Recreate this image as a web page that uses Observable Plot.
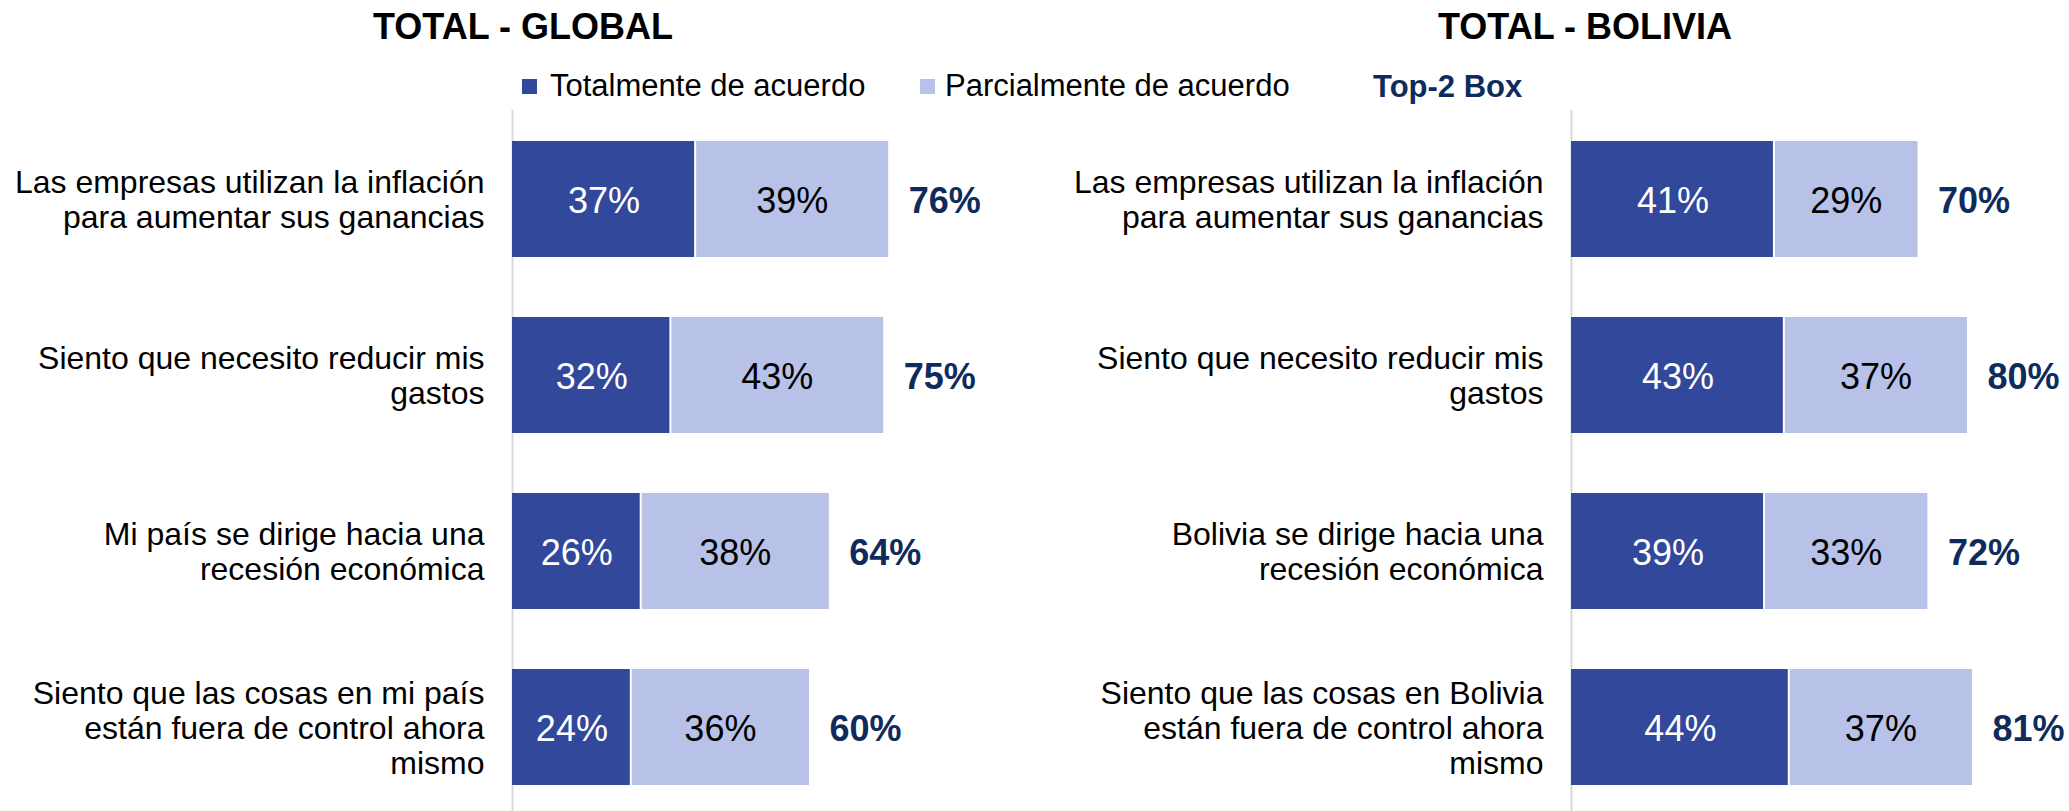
<!DOCTYPE html>
<html><head><meta charset="utf-8">
<script src="https://cdn.jsdelivr.net/npm/d3@7"></script>
<script src="https://cdn.jsdelivr.net/npm/@observablehq/plot@0.6"></script>
<style>
body{margin:0;overflow:hidden;background:#fff;font-family:"Liberation Sans",Arial,sans-serif;}
#wrap{position:relative;width:2069px;height:811px;overflow:hidden;}
.title{position:absolute;top:9px;font-size:36px;line-height:36px;font-weight:bold;color:#000;transform:translateX(-50%);white-space:nowrap;}
.leg{position:absolute;top:70px;font-size:31px;line-height:31px;color:#000;white-space:nowrap;}
.sw{position:absolute;width:15px;height:15px;top:79px;}
.panel{position:absolute;top:110px;}
.panel svg{overflow:visible;}
</style></head><body>
<div id="wrap">
  <div class="title" style="left:523px">TOTAL - GLOBAL</div>
  <div class="title" style="left:1585px">TOTAL - BOLIVIA</div>
  <div class="sw" style="left:522px;background:#32489b"></div>
  <div class="leg" style="left:550px">Totalmente de acuerdo</div>
  <div class="sw" style="left:920px;background:#b8c2e8"></div>
  <div class="leg" style="left:945px">Parcialmente de acuerdo</div>
  <div class="leg" style="left:1373px;top:71px;font-weight:bold;color:#0f2b5b">Top-2 Box</div>
  <div class="panel" id="left" style="left:0px"></div>
  <div class="panel" id="right" style="left:1034px"></div>
</div>
<script>
const categoriesGlobal = [
  "Las empresas utilizan la inflación\npara aumentar sus ganancias",
  "Siento que necesito reducir mis\ngastos",
  "Mi país se dirige hacia una\nrecesión económica",
  "Siento que las cosas en mi país\nestán fuera de control ahora\nmismo"
];
const totalGlobal = [37, 32, 26, 24];
const partialGlobal = [39, 43, 38, 36];
const top2Global = [76, 75, 64, 60];

const categoriesBolivia = [
  "Las empresas utilizan la inflación\npara aumentar sus ganancias",
  "Siento que necesito reducir mis\ngastos",
  "Bolivia se dirige hacia una\nrecesión económica",
  "Siento que las cosas en Bolivia\nestán fuera de control ahora\nmismo"
];
const totalBolivia = [41, 43, 39, 44];
const partialBolivia = [29, 37, 33, 37];
const top2Bolivia = [70, 80, 72, 81];

const colorDark = "#32489b";
const colorLight = "#b8c2e8";
const navy = "#0f2b5b";
const font = "'Liberation Sans', Arial, sans-serif";

function panel(cats, tot, par, top2, width, marginLeft) {
  const rows = cats.map((c, i) => ({cat: c, total: tot[i], partial: par[i], top2: top2[i]}));
  return Plot.plot({
    width, height: 706,
    marginLeft, marginRight: width - marginLeft - 495, marginTop: 0, marginBottom: 0,
    x: {domain: [0, 100], axis: null},
    y: {domain: cats, axis: null, paddingInner: 0.34, paddingOuter: 0.17},
    style: {fontFamily: font, background: "transparent", overflow: "visible"},
    marks: [
      Plot.ruleX([0], {stroke: "#d9d9d9", strokeWidth: 2}),
      Plot.barX(rows, {x1: 0, x2: "total", y: "cat", fill: colorDark, insetRight: 1}),
      Plot.barX(rows, {x1: "total", x2: "top2", y: "cat", fill: colorLight, insetLeft: 1}),
      Plot.text(rows, {x: d => d.total / 2, y: "cat", text: d => d.total + "%", fill: "white", fontSize: 36, dy: 2}),
      Plot.text(rows, {x: d => d.total + d.partial / 2, y: "cat", text: d => d.partial + "%", fill: "#000", fontSize: 36, dy: 2}),
      Plot.text(rows, {x: "top2", y: "cat", text: d => d.top2 + "%", dx: 20, dy: 2, textAnchor: "start", fill: navy, fontSize: 36, fontWeight: "bold"}),
      Plot.text(rows, {x: 0, y: "cat", text: "cat", dx: -28, textAnchor: "end", fontSize: 32, lineHeight: 1.1, fill: "#000"})
    ]
  });
}

document.getElementById("left").appendChild(panel(categoriesGlobal, totalGlobal, partialGlobal, top2Global, 1034, 512));
document.getElementById("right").appendChild(panel(categoriesBolivia, totalBolivia, partialBolivia, top2Bolivia, 1035, 537));
</script>
</body></html>
